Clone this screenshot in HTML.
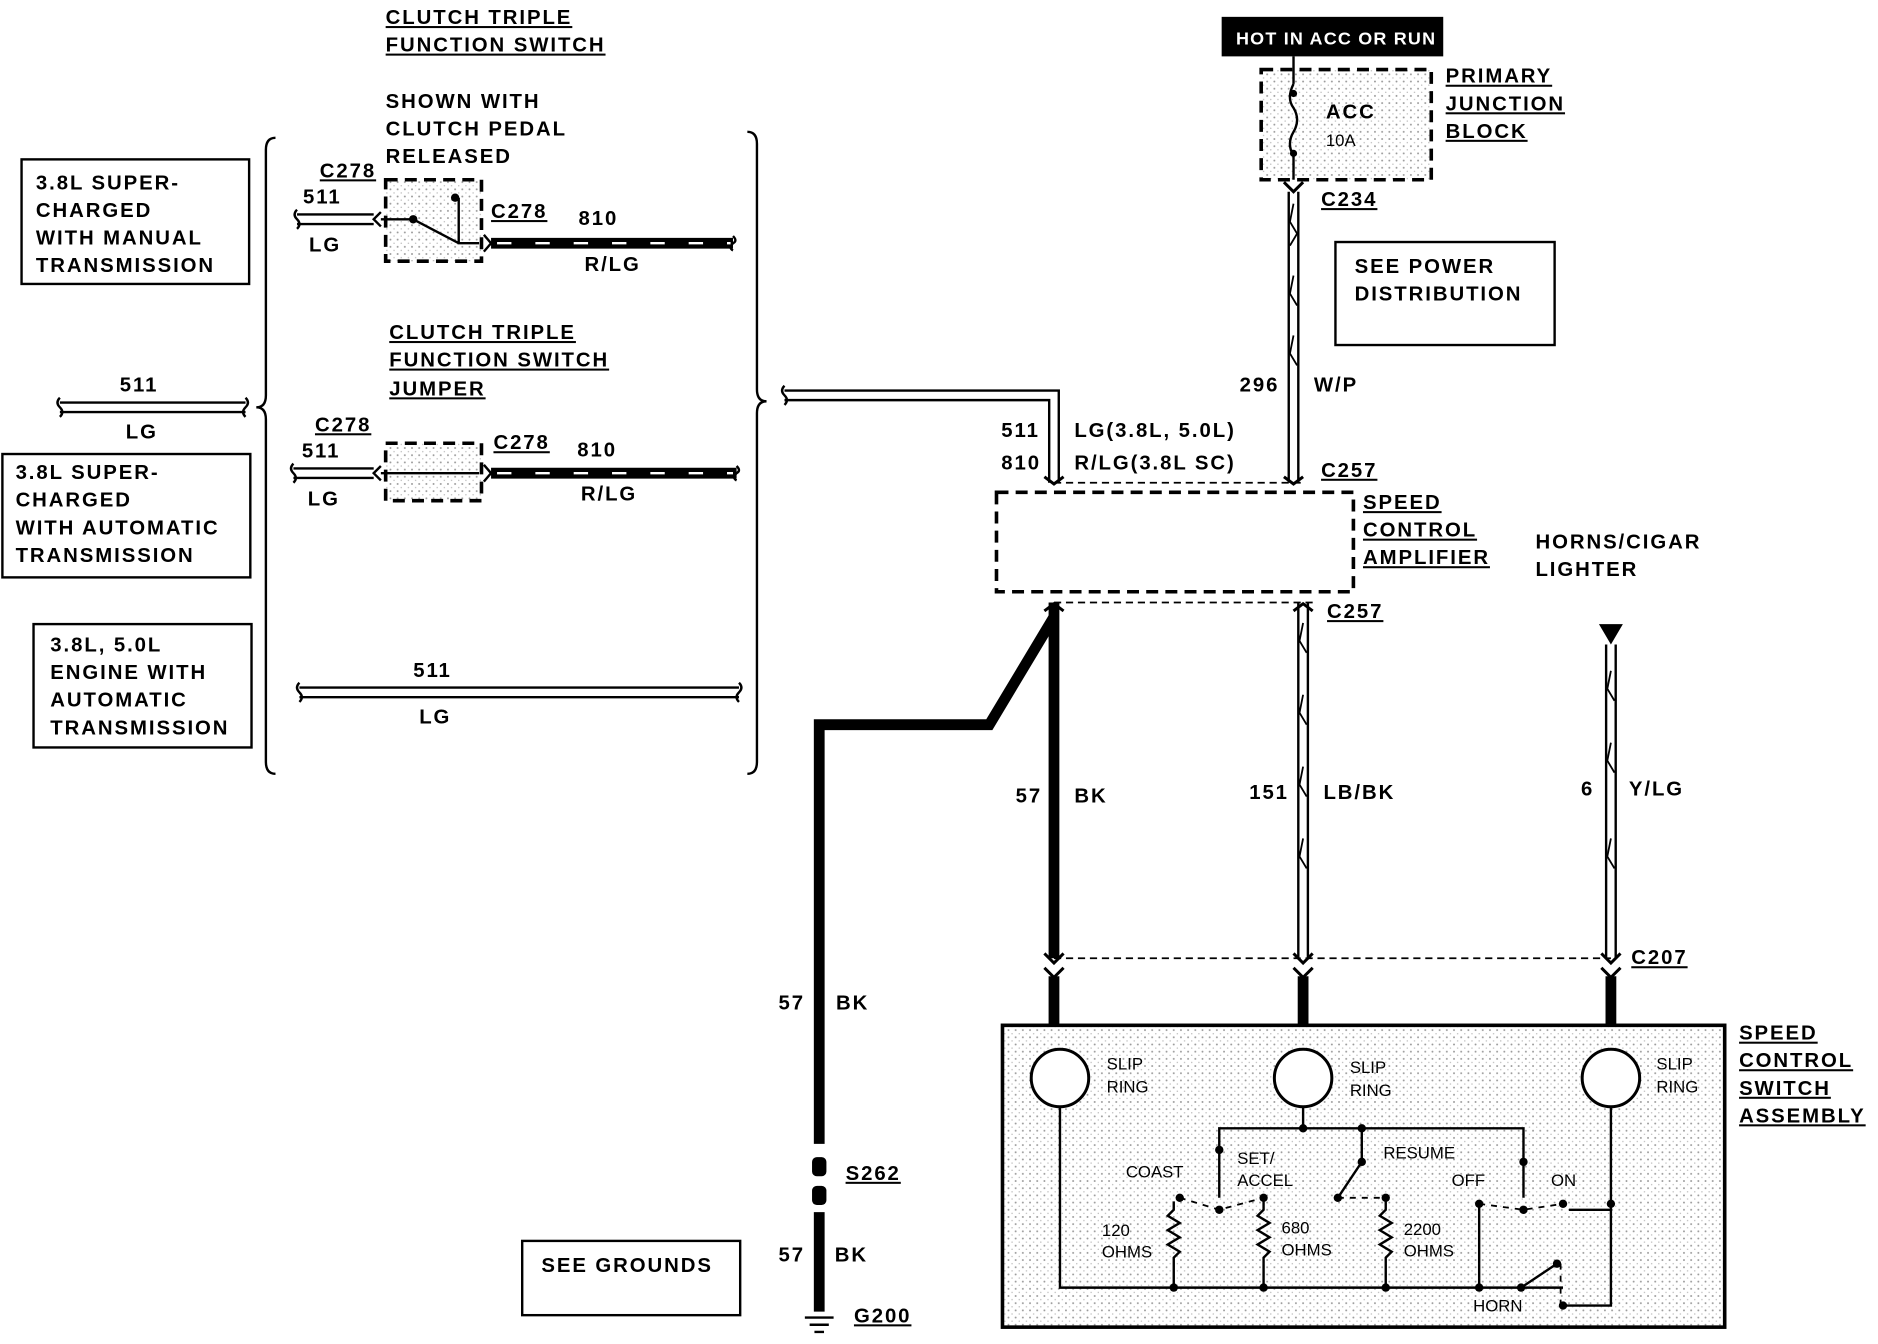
<!DOCTYPE html>
<html><head><meta charset="utf-8"><style>
html,body{margin:0;padding:0;background:#fff;}
svg{display:block}
text{font-family:"Liberation Sans",sans-serif;font-size:17px;font-weight:bold;fill:#000;letter-spacing:1.6px}
.s{font-size:14px;font-weight:normal;letter-spacing:0}
</style></head><body>
<svg width="1878" height="1344" viewBox="0 0 1568 1122" xmlns="http://www.w3.org/2000/svg">
<defs>
<pattern id="dot" width="6" height="6" patternUnits="userSpaceOnUse"><rect width="6" height="6" fill="#fff"/><circle cx="2" cy="2" r="0.8" fill="#999"/><circle cx="5" cy="5" r="0.6" fill="#bbb"/></pattern>
</defs>
<g fill="none" stroke="#000" stroke-width="2">
<path d="M230 115 Q222 115 222 125 L222 330 Q222 340 214 340 Q222 340 222 350 L222 636 Q222 646 230 646"/>
<path d="M624 110 Q632 110 632 120 L632 325 Q632 335 640 335 Q632 335 632 345 L632 636 Q632 646 624 646"/>
<rect x="18" y="133" width="190" height="104"/>
<rect x="2" y="379" width="207" height="103"/>
<rect x="28" y="521" width="182" height="103"/>
<rect x="1115" y="202" width="183" height="86"/>
<rect x="436" y="1036" width="182" height="62"/>
<path d="M248 179 H312 M248 187 H312"/><path d="M50 336 H205 M50 344 H205"/>
<path d="M245 391 H312 M245 399 H312"/><path d="M250 574 H617 M250 582 H617"/>
<path d="M655 326 H884 V403 M655 334 H876 V403"/>
<path d="M1076 160 V403 M1084 160 V403"/>
<path d="M1084 503 V800 M1092 503 V800"/>
<path d="M1341 538 V800 M1349 538 V800"/>
<!-- wire end curls -->
<path d="M248 175 q-4 4 0 8 q4 4 0 8"/><path d="M50 332 q-4 4 0 8 q4 4 0 8"/><path d="M205 332 q4 4 0 8 q-4 4 0 8"/>
<path d="M245 387 q-4 4 0 8 q4 4 0 8"/><path d="M250 570 q-4 4 0 8 q4 4 0 8"/><path d="M617 570 q4 4 0 8 q-4 4 0 8"/>
<path d="M655 322 q-4 4 0 8 q4 4 0 8"/><path d="M612 197 q4 4 0 6 q-4 4 0 6"/><path d="M615 389 q4 4 0 6 q-4 4 0 6"/>
<path d="M318 177 l-6 6 l6 6 M318 389 l-6 6 l6 6 M404 196 l6 7 l-6 7 M404 388 l6 7 l-6 7"/>
</g>
<g stroke="#000" stroke-width="9" fill="none">
<path d="M410 203 H612"/><path d="M410 395 H615"/>
<path d="M880 503 V800"/><path d="M880 515 L826 605 H684 V955"/>
<path d="M880 815 V856 M1088 815 V856 M1345 815 V856"/>
<path d="M684 1012 V1095"/>
</g>
<g stroke="#fff" stroke-width="2" stroke-dasharray="12 20" fill="none"><path d="M415 203 H610"/><path d="M415 395 H612"/></g>
<!-- connector arrows -->
<g stroke="#000" stroke-width="2.5" fill="none">
<path d="M872 796 l8 8 l8 -8 M872 808 l8 8 l8 -8"/>
<path d="M1080 796 l8 8 l8 -8 M1080 808 l8 8 l8 -8"/>
<path d="M1337 796 l8 8 l8 -8 M1337 808 l8 8 l8 -8"/>
<path d="M1072 152 l8 8 l8 -8 M1072 398 l8 6 l8 -6 M872 398 l8 6 l8 -6 M872 510 l8 -6 l8 6 M1080 510 l8 -6 l8 6"/>
</g>
<g stroke="#000" stroke-width="1.5" fill="none">
<path d="M1080 170 l-3 15 l6 10 l-6 10 M1080 230 l-3 15 l6 10 M1080 280 l-3 15 l6 10 M1088 520 l-3 15 l6 10 M1088 580 l-3 15 l6 10 M1088 640 l-3 15 l6 10 M1088 700 l-3 15 l6 10 M1345 560 l-3 15 l6 10 M1345 620 l-3 15 l6 10 M1345 700 l-3 15 l6 10"/>
</g>
<g stroke="#000" stroke-width="1.5" stroke-dasharray="6 4" fill="none">
<path d="M880 403 H1090"/><path d="M880 503 H1100"/><path d="M880 800 H1345"/>
</g>
<g stroke="#000" stroke-width="3" stroke-dasharray="10 6">
<rect x="322" y="150" width="80" height="68" fill="url(#dot)"/>
<rect x="322" y="370" width="80" height="48" fill="url(#dot)"/>
<rect x="1053" y="58" width="142" height="92" fill="url(#dot)"/>
<rect x="832" y="411" width="298" height="83" fill="none"/>
</g>
<g stroke="#000" stroke-width="2" fill="none">
<path d="M318 183 L345 183 L383 203 M383 165 L383 203 L400 203"/>
<path d="M318 395 H400"/>
<path d="M1080 47 V70 M1080 70 q-6 12 0 20 q6 10 0 20 q-6 10 0 20 V150"/>
</g>
<circle cx="345" cy="183" r="3.5"/><circle cx="380" cy="165" r="3.5"/>
<circle cx="1080" cy="78" r="3"/><circle cx="1080" cy="128" r="3"/>
<rect x="1020" y="14" width="185" height="33" fill="#000"/>
<text x="1032" y="37" style="fill:#fff;font-size:15px;letter-spacing:1px">HOT IN ACC OR RUN</text>
<polygon points="1335,521 1355,521 1345,538"/>
<rect x="837" y="856" width="603" height="252" fill="url(#dot)" stroke="#000" stroke-width="3"/>
<g stroke="#000" stroke-width="2.5" fill="#fff"><circle cx="885" cy="900" r="24"/><circle cx="1088" cy="900" r="24"/><circle cx="1345" cy="900" r="24"/></g>
<g stroke="#000" stroke-width="2" fill="none">
<path d="M885 924 V1075 H1305"/><path d="M1088 924 V942 M1018 1000 V942 H1272 V1000"/>
<path d="M1345 924 V1010 H1310"/><path d="M1235 1005 V1075"/>
<path d="M1137 942 V970 L1117 1000"/>
<path d="M980 1003 V1010 l-5 5 l10 6 l-10 6 l10 6 l-10 6 l10 6 l-5 5 V1075"/>
<path d="M1055 1003 V1010 l-5 5 l10 6 l-10 6 l10 6 l-10 6 l10 6 l-5 5 V1075"/>
<path d="M1157 1003 V1010 l-5 5 l10 6 l-10 6 l10 6 l-10 6 l10 6 l-5 5 V1075"/>
<path d="M1270 1075 L1300 1055 M1305 1090 H1345 V1010"/>
</g>
<g stroke="#000" stroke-width="1.5" stroke-dasharray="5 5" fill="none"><path d="M985 1000 L1018 1010 L1055 1000"/><path d="M1117 1000 L1157 1000"/><path d="M1235 1005 L1272 1010 L1305 1005"/><path d="M1303 1055 V1090"/></g>
<g fill="#000"><circle cx="1018" cy="960" r="3.5"/><circle cx="1018" cy="1010" r="3.5"/><circle cx="1055" cy="1000" r="3.5"/><circle cx="985" cy="1000" r="3.5"/><circle cx="1088" cy="942" r="3.5"/><circle cx="1137" cy="942" r="3.5"/><circle cx="1137" cy="970" r="3.5"/><circle cx="1117" cy="1000" r="3.5"/><circle cx="1157" cy="1000" r="3.5"/><circle cx="1272" cy="970" r="3.5"/><circle cx="1272" cy="1010" r="3.5"/><circle cx="1235" cy="1005" r="3.5"/><circle cx="1305" cy="1005" r="3.5"/><circle cx="1345" cy="1005" r="3.5"/><circle cx="980" cy="1075" r="3.5"/><circle cx="1055" cy="1075" r="3.5"/><circle cx="1157" cy="1075" r="3.5"/><circle cx="1235" cy="1075" r="3.5"/><circle cx="1270" cy="1075" r="3.5"/><circle cx="1300" cy="1055" r="3.5"/><circle cx="1305" cy="1090" r="3.5"/>
<rect x="678" y="966" width="12" height="16" rx="4"/><rect x="678" y="990" width="12" height="16" rx="4"/></g>
<g stroke="#000" stroke-width="2"><path d="M672 1100 H696 M676 1106 H692 M680 1112 H688"/></g>
<g text-decoration="underline">
<text x="322" y="20">CLUTCH TRIPLE</text><text x="322" y="43">FUNCTION SWITCH</text>
<text x="325" y="283">CLUTCH TRIPLE</text><text x="325" y="306">FUNCTION SWITCH</text><text x="325" y="330">JUMPER</text>
<text x="1207" y="69">PRIMARY</text><text x="1207" y="92">JUNCTION</text><text x="1207" y="115">BLOCK</text>
<text x="1138" y="425">SPEED</text><text x="1138" y="448">CONTROL</text><text x="1138" y="471">AMPLIFIER</text>
<text x="1452" y="868">SPEED</text><text x="1452" y="891">CONTROL</text><text x="1452" y="914">SWITCH</text><text x="1452" y="937">ASSEMBLY</text>
<text x="267" y="148">C278</text><text x="410" y="182">C278</text><text x="263" y="360">C278</text><text x="412" y="375">C278</text>
<text x="1103" y="172">C234</text><text x="1103" y="398">C257</text><text x="1108" y="516">C257</text><text x="1362" y="805">C207</text>
<text x="706" y="985">S262</text><text x="713" y="1104">G200</text>
</g>
<text x="322" y="90">SHOWN WITH</text><text x="322" y="113">CLUTCH PEDAL</text><text x="322" y="136">RELEASED</text>
<text x="30" y="158">3.8L SUPER-</text><text x="30" y="181">CHARGED</text><text x="30" y="204">WITH MANUAL</text><text x="30" y="227">TRANSMISSION</text>
<text x="13" y="400">3.8L SUPER-</text><text x="13" y="423">CHARGED</text><text x="13" y="446">WITH AUTOMATIC</text><text x="13" y="469">TRANSMISSION</text>
<text x="42" y="544">3.8L, 5.0L</text><text x="42" y="567">ENGINE WITH</text><text x="42" y="590">AUTOMATIC</text><text x="42" y="613">TRANSMISSION</text>
<text x="253" y="170">511</text><text x="258" y="210">LG</text><text x="483" y="188">810</text><text x="488" y="226">R/LG</text>
<text x="100" y="327">511</text><text x="105" y="366">LG</text>
<text x="252" y="382">511</text><text x="257" y="422">LG</text><text x="482" y="381">810</text><text x="485" y="418">R/LG</text>
<text x="345" y="565">511</text><text x="350" y="604">LG</text>
<text x="836" y="365">511</text><text x="897" y="365">LG(3.8L, 5.0L)</text><text x="836" y="392">810</text><text x="897" y="392">R/LG(3.8L SC)</text>
<text x="1107" y="99">ACC</text><text x="1107" y="122" class="s">10A</text>
<text x="1035" y="327">296</text><text x="1097" y="327">W/P</text>
<text x="1131" y="228">SEE POWER</text><text x="1131" y="251">DISTRIBUTION</text>
<text x="1282" y="458">HORNS/CIGAR</text><text x="1282" y="481">LIGHTER</text>
<text x="848" y="670">57</text><text x="897" y="670">BK</text>
<text x="1043" y="667">151</text><text x="1105" y="667">LB/BK</text>
<text x="1320" y="664">6</text><text x="1360" y="664">Y/LG</text>
<text x="650" y="843">57</text><text x="698" y="843">BK</text>
<text x="650" y="1053">57</text><text x="697" y="1053">BK</text>
<text x="452" y="1062">SEE GROUNDS</text>
<text x="924" y="893" class="s">SLIP</text><text x="924" y="912" class="s">RING</text>
<text x="1127" y="896" class="s">SLIP</text><text x="1127" y="915" class="s">RING</text>
<text x="1383" y="893" class="s">SLIP</text><text x="1383" y="912" class="s">RING</text>
<text x="940" y="983" class="s">COAST</text><text x="1033" y="972" class="s">SET/</text><text x="1033" y="990" class="s">ACCEL</text>
<text x="1155" y="967" class="s">RESUME</text><text x="1212" y="990" class="s">OFF</text><text x="1295" y="990" class="s">ON</text>
<text x="920" y="1032" class="s">120</text><text x="920" y="1050" class="s">OHMS</text>
<text x="1070" y="1030" class="s">680</text><text x="1070" y="1048" class="s">OHMS</text>
<text x="1172" y="1031" class="s">2200</text><text x="1172" y="1049" class="s">OHMS</text>
<text x="1230" y="1095" class="s">HORN</text>
</svg>
</body></html>
